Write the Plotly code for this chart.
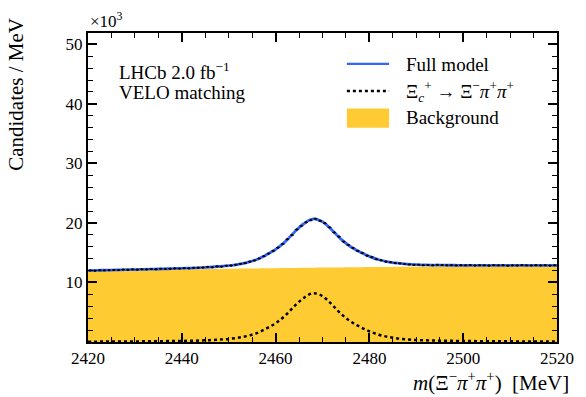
import numpy as np
import plotly.graph_objects as go

# Model curves sampled every 2 MeV, in units of 10^3 candidates / MeV
model_mass = list(range(2420, 2522, 2))
background = [11.95, 11.97, 12.00, 12.02, 12.05, 12.07, 12.10, 12.12, 12.14, 12.17,
              12.19, 12.21, 12.24, 12.26, 12.28, 12.30, 12.32, 12.34, 12.36, 12.38,
              12.40, 12.42, 12.44, 12.46, 12.48, 12.50, 12.52, 12.53, 12.55, 12.57,
              12.58, 12.60, 12.61, 12.63, 12.64, 12.65, 12.66, 12.68, 12.69, 12.70,
              12.71, 12.72, 12.73, 12.74, 12.75, 12.76, 12.77, 12.77, 12.78, 12.79,
              12.80]
signal = [0.05, 0.06, 0.07, 0.08, 0.09, 0.10, 0.11, 0.12, 0.14, 0.16,
          0.18, 0.21, 0.25, 0.31, 0.40, 0.52, 0.72, 1.02, 1.50, 2.25,
          3.15, 4.40, 6.00, 7.40, 8.20, 7.70, 6.30, 4.70, 3.45, 2.55,
          1.80, 1.22, 0.85, 0.60, 0.44, 0.34, 0.28, 0.24, 0.21, 0.19,
          0.17, 0.15, 0.14, 0.13, 0.12, 0.11, 0.10, 0.09, 0.09, 0.08,
          0.08]

# Binned data, 1 MeV bins
bin_centres = [2420.5 + i for i in range(100)]
counts = [12.02, 11.98, 12.05, 12.03, 12.06, 12.10, 12.08, 12.16, 12.12, 12.20,
          12.15, 12.22, 12.19, 12.26, 12.21, 12.30, 12.27, 12.31, 12.36, 12.33,
          12.40, 12.37, 12.46, 12.47, 12.51, 12.62, 12.55, 12.70, 12.66, 12.80,
          12.84, 12.97, 13.12, 13.24, 13.50, 13.70, 14.02, 14.40, 14.85, 15.30,
          15.85, 16.45, 17.25, 17.95, 18.90, 19.50, 20.10, 20.45, 20.70, 20.35,
          19.95, 19.25, 18.40, 17.70, 16.85, 16.30, 15.80, 15.30, 14.95, 14.50,
          14.25, 13.90, 13.72, 13.50, 13.40, 13.25, 13.20, 13.10, 13.02, 12.95,
          12.98, 12.90, 12.93, 12.88, 12.97, 12.92, 12.88, 12.91, 12.86, 12.90,
          12.87, 12.92, 12.85, 12.89, 12.88, 12.84, 12.91, 12.87, 12.90, 12.83,
          12.88, 12.86, 12.92, 12.87, 12.85, 12.90, 12.86, 12.89, 12.84, 12.88]

full_model = [b + s for b, s in zip(background, signal)]
count_err = [np.sqrt(c * 1000.0) / 1000.0 for c in counts]

YELLOW = "#ffcb33"
BLUE = "#3366ff"
FONT = "Liberation Serif"

fig = go.Figure()
fig.add_trace(go.Scatter(x=model_mass, y=background, mode="lines", fill="tozeroy",
                         fillcolor=YELLOW, line=dict(width=0, color=YELLOW, shape="spline"),
                         showlegend=False))
fig.add_trace(go.Scatter(x=model_mass, y=signal, mode="lines",
                         line=dict(color="black", width=2.5, dash="dot", shape="spline"),
                         showlegend=False))
fig.add_trace(go.Scatter(x=model_mass, y=full_model, mode="lines",
                         line=dict(color=BLUE, width=2.8, shape="spline"),
                         showlegend=False))
fig.add_trace(go.Scatter(x=bin_centres, y=counts, mode="markers",
                         marker=dict(color="black", size=2, symbol="square"),
                         error_y=dict(type="data", array=count_err, width=0, thickness=1, color="black"),
                         error_x=dict(type="constant", value=0.4, width=0, thickness=1, color="black"),
                         showlegend=False))

axis_common = dict(showline=True, linecolor="black", linewidth=2, mirror="allticks",
                   ticks="inside", ticklen=9, tickwidth=1.6, tickcolor="black",
                   showgrid=False, zeroline=False,
                   tickfont=dict(family=FONT, size=17, color="black"))

fig.update_xaxes(range=[2420, 2520], tickvals=[2420, 2440, 2460, 2480, 2500, 2520],
                 minor=dict(ticks="inside", ticklen=5, tickwidth=1.3, tickcolor="black",
                            dtick=5, tick0=2420, showgrid=False),
                 **axis_common)
fig.update_yaxes(range=[0, 51.9], tickvals=[0, 10, 20, 30, 40, 50],
                 ticktext=["", "10", "20", "30", "40", "50"],
                 minor=dict(ticks="inside", ticklen=5, tickwidth=1.3, tickcolor="black",
                            dtick=2, tick0=0, showgrid=False),
                 **axis_common)

ann_font = dict(family=FONT, size=19, color="black")
annotations = [
    dict(text="×10<sup>3</sup>", x=0.0, y=1.0, xref="paper", yref="paper",
         xanchor="left", yanchor="bottom", yshift=0, showarrow=False,
         font=dict(family=FONT, size=17, color="black")),
    dict(text="Candidates / MeV", x=-0.155, y=1.0, xref="paper", yref="paper",
         xanchor="center", yanchor="top", yshift=17, textangle=-90, showarrow=False,
         font=dict(family=FONT, size=21, color="black")),
    dict(text="<i>m</i>(Ξ<sup>−</sup><i>π</i><sup>+</sup><i>π</i><sup>+</sup>)  [MeV]",
         x=1.0, y=0, xref="paper", yref="paper", xanchor="right", yanchor="top",
         xshift=14, yshift=-24, showarrow=False, font=dict(family=FONT, size=21, color="black")),
    dict(text="LHCb 2.0 fb<sup>−1</sup>", x=0.0625, y=0.878, xref="paper", yref="paper",
         xanchor="left", yanchor="middle", showarrow=False, font=ann_font),
    dict(text="VELO matching", x=0.0625, y=0.806, xref="paper", yref="paper",
         xanchor="left", yanchor="middle", showarrow=False, font=ann_font),
    dict(text="Full model", x=0.674, y=0.899, xref="paper", yref="paper",
         xanchor="left", yanchor="middle", showarrow=False, font=ann_font),
    dict(text="Ξ<sub><i>c</i></sub><sup>+</sup> → Ξ<sup>−</sup><i>π</i><sup>+</sup><i>π</i><sup>+</sup>",
         x=0.674, y=0.812, xref="paper", yref="paper",
         xanchor="left", yanchor="middle", showarrow=False, font=ann_font),
    dict(text="Background", x=0.674, y=0.725, xref="paper", yref="paper",
         xanchor="left", yanchor="middle", showarrow=False, font=ann_font),
]

# legend keys drawn in paper space
shapes = [
    dict(type="line", xref="paper", yref="paper", x0=0.552, x1=0.642, y0=0.9, y1=0.9,
         line=dict(color=BLUE, width=2.4)),
    dict(type="line", xref="paper", yref="paper", x0=0.552, x1=0.642, y0=0.812, y1=0.812,
         line=dict(color="black", width=2.5, dash="dot")),
    dict(type="rect", xref="paper", yref="paper", x0=0.552, x1=0.642, y0=0.693, y1=0.756,
         fillcolor=YELLOW, line=dict(width=0)),
]

fig.update_layout(width=586, height=397, margin=dict(l=88, r=18, t=33, b=55),
                  plot_bgcolor="white", paper_bgcolor="white",
                  annotations=annotations, shapes=shapes, showlegend=False)

fig.write_html("out.html")
